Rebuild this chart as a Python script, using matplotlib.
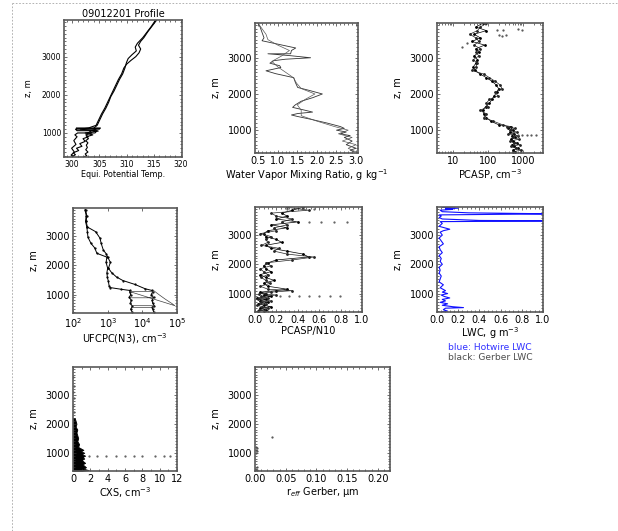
# Aircraft profile panels, 09012201

import numpy as np
import matplotlib.pyplot as plt
from matplotlib.lines import Line2D
from matplotlib.ticker import AutoMinorLocator, FixedLocator, NullFormatter

# Equivalent potential temperature, two passes plus low level legs
theta_up_z = [380, 430, 480, 540, 600, 650, 720, 780, 850, 900, 950, 1000, 1050, 1100, 1130, 1200,
              1350, 1500, 1650, 1800, 1950, 2100, 2250, 2400, 2550, 2700, 2850, 2950, 3050, 3150,
              3250, 3350, 3500, 3650, 3800, 3950]
theta_up = [300.0, 300.6, 300.2, 301.2, 300.8, 301.8, 301.4, 302.4, 302.0, 303.0, 302.5, 303.6, 303.2,
            304.4, 304.0, 304.6, 305.1, 305.6, 306.2, 306.7, 307.1, 307.7, 308.2, 308.7, 309.3, 309.7,
            310.0, 310.3, 311.0, 311.8, 311.6, 312.0, 313.0, 313.8, 314.6, 315.3]
theta_dn_z = [3950, 3800, 3650, 3500, 3400, 3300, 3200, 3100, 3000, 2900, 2800, 2700, 2550, 2400, 2250,
              2100, 1950, 1800, 1650, 1500, 1350, 1200, 1130, 1100, 1050, 1000, 950, 900, 850, 800,
              740, 680, 620, 560, 500, 450, 400, 380]
theta_dn = [315.5, 314.7, 313.9, 313.2, 312.6, 312.2, 312.6, 312.3, 311.7, 310.8, 310.0, 309.5, 309.1,
            308.5, 308.0, 307.5, 307.0, 306.5, 306.0, 305.4, 304.9, 304.4, 303.0, 301.5, 304.8, 302.4,
            303.8, 302.6, 303.0, 302.5, 302.9, 302.6, 302.8, 302.5, 302.9, 302.4, 302.7, 302.2]
theta_leg_z = [1130, 1130, 1100, 1100, 1060, 1060, 1000, 1000, 950, 900, 800, 700, 600, 500, 420, 380]
theta_leg = [300.8, 305.2, 305.0, 300.6, 300.9, 304.6, 304.2, 301.0, 300.5, 300.9, 300.3, 300.7,
             299.9, 300.4, 299.8, 300.2]

# Water vapour mixing ratio
wv_a_z = [3950, 3850, 3700, 3550, 3470, 3400, 3330, 3270, 3200, 3110, 3110, 3060, 3000, 2960, 2920,
          2850, 2780, 2730, 2640, 2560, 2450, 2320, 2180, 2100, 2000, 1900, 1800, 1700, 1630, 1550,
          1500, 1460, 1420, 1380, 1300, 1200, 1100, 1050, 1000, 950, 900, 850, 800, 700, 600, 500,
          450, 400]
wv_a = [0.5, 0.55, 0.6, 0.65, 0.6, 0.9, 1.2, 1.46, 1.35, 1.33, 0.75, 1.3, 1.84, 1.2, 0.9, 0.8, 1.05,
        1.08, 0.7, 0.95, 1.41, 1.45, 1.51, 1.8, 2.14, 1.9, 1.6, 1.45, 1.38, 1.7, 1.89, 1.51, 1.35,
        1.5, 1.85, 2.25, 2.6, 2.7, 2.5, 2.75, 2.6, 2.85, 2.7, 2.9, 2.75, 3.0, 2.85, 2.95]
wv_b_z = [3950, 3800, 3650, 3500, 3350, 3200, 3050, 2900, 2750, 2600, 2450, 2300, 2150, 2000, 1850,
          1700, 1550, 1400, 1250, 1100, 1000, 900, 800, 700, 600, 500, 400]
wv_b = [0.5, 0.6, 0.7, 0.75, 1.0, 1.3, 1.1, 0.85, 1.0, 1.2, 1.4, 1.48, 1.6, 1.95, 1.7, 1.5, 1.6, 1.6,
        2.0, 2.45, 2.8, 2.55, 2.9, 2.65, 3.0, 2.8, 3.0]

# PCASP concentration and PCASP/N10 (same altitude grid)
grid_z = [3950, 3850, 3750, 3650, 3550, 3450, 3350, 3250, 3150, 3050, 2950, 2850, 2750, 2650, 2550,
          2450, 2350, 2250, 2150, 2050, 1950, 1850, 1750, 1650, 1550, 1450, 1350, 1250, 1150, 1100,
          1050, 1000, 950, 900, 850, 800, 750, 700, 650, 600, 550, 500, 450, 400]
pcasp_a = [70, 45, 90, 40, 60, 35, 80, 45, 55, 40, 50, 45, 38, 42, 60, 90, 130, 170, 200, 180, 150,
           130, 110, 85, 70, 75, 90, 120, 200, 450, 380, 500, 420, 550, 480, 600, 450, 520, 650, 480,
           560, 700, 520, 600]
pcasp_b = [90, 60, 50, 30, 45, 55, 40, 60, 45, 55, 38, 50, 45, 35, 75, 110, 160, 220, 250, 160, 190,
           110, 90, 100, 60, 90, 75, 140, 260, 350, 600, 420, 650, 380, 700, 520, 750, 430, 550, 800,
           450, 620, 900, 500]
pcasp_out_z = [3780, 3770, 3790, 3760, 3620, 3610, 3630, 3400, 3300, 870, 870, 870, 870, 870]
pcasp_out = [180, 260, 700, 950, 200, 250, 320, 25, 18, 700, 950, 1300, 1700, 2300]

ratio_a = [0.45, 0.35, 0.25, 0.3, 0.2, 0.4, 0.15, 0.3, 0.12, 0.08, 0.1, 0.2, 0.25, 0.1, 0.15, 0.3,
           0.45, 0.5, 0.2, 0.12, 0.08, 0.1, 0.15, 0.05, 0.1, 0.18, 0.08, 0.12, 0.3, 0.2, 0.05, 0.1,
           0.08, 0.15, 0.02, 0.1, 0.05, 0.12, 0.03, 0.08, 0.15, 0.05, 0.1, 0.03]
ratio_b = [0.3, 0.5, 0.15, 0.2, 0.35, 0.25, 0.3, 0.18, 0.2, 0.05, 0.15, 0.1, 0.12, 0.06, 0.22, 0.18,
           0.3, 0.55, 0.35, 0.1, 0.15, 0.05, 0.08, 0.12, 0.06, 0.1, 0.14, 0.05, 0.12, 0.35, 0.15,
           0.04, 0.2, 0.06, 0.12, 0.03, 0.15, 0.06, 0.1, 0.02, 0.07, 0.12, 0.04, 0.08]
ratio_out_z = [3450, 3450, 3450, 3450, 3900, 3900, 3900, 900, 900, 900, 900, 900, 900, 900]
ratio_out = [0.5, 0.62, 0.74, 0.86, 0.3, 0.45, 0.55, 0.23, 0.32, 0.41, 0.5, 0.6, 0.7, 0.79]

# UFCPC (N3)
cpc_a_z = [3900, 3700, 3500, 3310, 3150, 2960, 2750, 2600, 2410, 2280, 2100, 1900, 1750, 1590, 1450,
           1300, 1240, 1180, 1140, 1100, 1000, 900, 800, 700, 600, 500, 420]
cpc_a = [222, 240, 230, 250, 260, 270, 330, 420, 490, 950, 900, 1000, 950, 980, 1050, 1100, 1170,
         2500, 4400, 4300, 4600, 4200, 4800, 4500, 5200, 4600, 5000]
cpc_b_z = [3900, 3700, 3500, 3310, 3150, 2930, 2750, 2520, 2400, 2280, 2100, 1900, 1750, 1600, 1480,
           1350, 1200, 1140, 1100, 1000, 900, 800, 700, 620, 560, 500, 420]
cpc_b = [230, 250, 240, 260, 450, 600, 650, 750, 900, 1000, 1200, 1050, 1300, 1800, 2750, 6000,
         12000, 19000, 20000, 18000, 21000, 19000, 20000, 22000, 19000, 20000, 21000]
cpc_c_z = [1140, 1000, 850, 700, 620, 1100, 1100, 890, 890, 620, 620, 560, 560]
cpc_c = [21000, 30000, 45000, 70000, 87000, 4400, 20000, 20000, 4500, 4800, 22000, 19000, 5200]

# Hotwire LWC
lwc_z = [3950, 3920, 3900, 3880, 3850, 3800, 3760, 3730, 3720, 3710, 3690, 3650, 3600, 3550, 3500,
         3490, 3480, 3460, 3400, 3300, 3200, 3150, 3100, 3000, 2900, 2800, 2700, 2600, 2500, 2400,
         2300, 2200, 2100, 2000, 1900, 1800, 1700, 1600, 1500, 1400, 1300, 1200, 1100, 1050, 1000,
         950, 900, 850, 800, 750, 700, 650, 600, 550, 520, 500, 450, 400, 380]
lwc = [0.05, 0.2, 0.08, 0.15, 0.03, 0.05, 0.3, 1.0, 1.0, 0.6, 0.02, 0.04, 0.02, 0.05, 0.4, 1.0, 1.0,
       0.03, 0.05, 0.02, 0.12, 0.06, 0.03, 0.05, 0.02, 0.04, 0.06, 0.02, 0.03, 0.05, 0.02, 0.04, 0.03,
       0.05, 0.02, 0.03, 0.02, 0.04, 0.03, 0.02, 0.06, 0.03, 0.08, 0.05, 0.1, 0.04, 0.07, 0.12, 0.05,
       0.08, 0.03, 0.1, 0.05, 0.15, 0.25, 0.08, 0.06, 0.1, 0.04]

# CXS
cxs_z = [2200, 2100, 2000, 1900, 1800, 1700, 1600, 1500, 1400, 1300, 1200, 1100, 1050, 1000, 950,
         900, 850, 800, 750, 700, 650, 600, 550, 500, 450, 400, 380]
cxs = [0.2, 0.3, 0.4, 0.3, 0.5, 0.4, 0.5, 0.6, 0.5, 0.7, 0.6, 1.2, 0.9, 1.3, 1.0, 1.4, 1.1, 1.3, 1.0,
       1.2, 1.4, 1.1, 1.3, 1.5, 1.2, 1.8, 1.0]
cxs_out_z = [2400, 2600, 2900, 3100, 3300, 3600, 900, 900, 900, 900, 900, 900, 900, 900, 900, 900]
cxs_out = [0.1, 0.05, 0.1, 0.05, 0.1, 0.05, 1.8, 2.8, 3.8, 5.0, 6.0, 7.0, 8.0, 9.5, 10.5, 11.2]

# Gerber effective radius
reff_z = [1550, 1200, 1150, 1100, 1050, 1000, 500, 450, 420]
reff = [0.028, 0.002, 0.003, 0.002, 0.004, 0.002, 0.003, 0.002, 0.004]

W, H = 618, 531
FS = 7
ZLIM = (370, 3960)

plt.rcParams['font.family'] = 'DejaVu Sans'
fig = plt.figure(figsize=(W / 100, H / 100), dpi=100)


def make_ax(l, t, r, b, fs=FS):
    ax = fig.add_axes([l / W, 1 - b / H, (r - l) / W, (b - t) / H])
    ax.set_ylim(*ZLIM)
    ax.set_yticks([1000, 2000, 3000])
    ax.yaxis.set_minor_locator(AutoMinorLocator(10))
    ax.tick_params(which='both', direction='in', top=True, right=True, labelsize=fs,
                   width=0.5, color='0.2', pad=2)
    ax.tick_params(which='major', length=2.5)
    ax.tick_params(which='minor', length=1.2)
    for s in ax.spines.values():
        s.set_linewidth(1.2)
        s.set_color('0.35')
    ax.set_ylabel('z, m', fontsize=fs, labelpad=5)
    return ax


def fix_labels(ax, labels):
    ax.set_xticklabels(labels)


# row 1
ax1 = make_ax(64, 20, 182, 157, fs=5.5)
ax1.plot(theta_up, theta_up_z, color='k', lw=0.8)
ax1.plot(theta_dn, theta_dn_z, color='k', lw=0.8)
ax1.plot(theta_leg, theta_leg_z, color='k', lw=0.8)
ax1.set_xlim(298.5, 320.2)
ax1.set_xticks([300, 305, 310, 315, 320])
ax1.xaxis.set_minor_locator(AutoMinorLocator(5))
ax1.set_ylabel('z, m', fontsize=6, labelpad=6)
ax1.set_xlabel('Equi. Potential Temp.', fontsize=5.8, labelpad=1)
ax1.set_title('09012201 Profile', fontsize=7, pad=2)

ax2 = make_ax(255, 23, 358, 153)
ax2.plot(wv_a, wv_a_z, color='0.2', lw=0.6)
ax2.plot(wv_b, wv_b_z, color='0.35', lw=0.5)
ax2.set_xlim(0.42, 3.05)
ax2.set_xticks([0.5, 1.0, 1.5, 2.0, 2.5, 3.0])
fix_labels(ax2, ['0.5', '1.0', '1.5', '2.0', '2.5', '3.0'])
ax2.xaxis.set_minor_locator(AutoMinorLocator(5))
ax2.set_xlabel('Water Vapor Mixing Ratio, g kg$^{-1}$', fontsize=FS, labelpad=1)

ax3 = make_ax(437, 23, 543, 153)
ax3.set_xscale('log')
ax3.plot(pcasp_a, grid_z, color='k', lw=0.5, marker='.', ms=2)
ax3.plot(pcasp_b, grid_z, color='0.15', lw=0.5, marker='.', ms=2)
ax3.plot(pcasp_out, pcasp_out_z, ls='none', color='0.3', marker='.', ms=1.2)
ax3.set_xlim(3.5, 3700)
ax3.xaxis.set_major_locator(FixedLocator([10, 100, 1000]))
fix_labels(ax3, ['10', '100', '1000'])
ax3.xaxis.set_minor_formatter(NullFormatter())
ax3.set_xlabel('PCASP, cm$^{-3}$', fontsize=FS, labelpad=1)

# row 2
ax4 = make_ax(73, 208, 177, 313)
ax4.set_xscale('log')
ax4.plot(cpc_a, cpc_a_z, color='k', lw=0.7, marker='.', ms=1.2)
ax4.plot(cpc_b, cpc_b_z, color='k', lw=0.7, marker='.', ms=1.2)
ax4.plot(cpc_c, cpc_c_z, color='0.25', lw=0.5)
ax4.set_xlim(100, 1e5)
ax4.xaxis.set_major_locator(FixedLocator([1e2, 1e3, 1e4, 1e5]))
fix_labels(ax4, ['10$^2$', '10$^3$', '10$^4$', '10$^5$'])
ax4.xaxis.set_minor_formatter(NullFormatter())
ax4.set_xlabel('UFCPC(N3), cm$^{-3}$', fontsize=FS, labelpad=1)

ax5 = make_ax(255, 207, 362, 312)
ax5.plot(ratio_a, grid_z, color='k', lw=0.5, marker='.', ms=2)
ax5.plot(ratio_b, grid_z, color='0.15', lw=0.5, marker='.', ms=2)
ax5.plot(ratio_out, ratio_out_z, ls='none', color='0.35', marker='.', ms=1.2)
ax5.set_xlim(0, 1.0)
ax5.set_xticks([0, 0.2, 0.4, 0.6, 0.8, 1.0])
fix_labels(ax5, ['0.0', '0.2', '0.4', '0.6', '0.8', '1.0'])
ax5.xaxis.set_minor_locator(AutoMinorLocator(5))
ax5.set_xlabel('PCASP/N10', fontsize=FS, labelpad=1)

ax6 = make_ax(437, 207, 543, 312)
ax6.plot(lwc, lwc_z, color='#1010ff', lw=0.8)
ax6.set_xlim(0, 1.0)
ax6.set_xticks([0, 0.2, 0.4, 0.6, 0.8, 1.0])
fix_labels(ax6, ['0.0', '0.2', '0.4', '0.6', '0.8', '1.0'])
ax6.xaxis.set_minor_locator(AutoMinorLocator(5))
ax6.set_xlabel('LWC, g m$^{-3}$', fontsize=FS, labelpad=0.5)
ax6.text(0.5, -0.335, 'blue: Hotwire LWC', color='#3030ff', fontsize=6.6,
         ha='center', va='center', transform=ax6.transAxes)
ax6.text(0.5, -0.43, 'black: Gerber LWC', color='0.3', fontsize=6.6,
         ha='center', va='center', transform=ax6.transAxes)

# row 3
ax7 = make_ax(73, 367, 177, 471)
ax7.fill_betweenx(cxs_z, 0, cxs, color='k', lw=0.6)
ax7.plot(cxs_out, cxs_out_z, ls='none', color='0.35', marker='.', ms=1.2)
ax7.set_xlim(0, 12)
ax7.set_xticks([0, 2, 4, 6, 8, 10, 12])
ax7.xaxis.set_minor_locator(AutoMinorLocator(2))
ax7.set_xlabel('CXS, cm$^{-3}$', fontsize=FS, labelpad=1)

ax8 = make_ax(255, 367, 390, 471)
ax8.plot(reff, reff_z, ls='none', color='0.3', marker='.', ms=1.2)
ax8.set_xlim(0, 0.22)
ax8.set_xticks([0, 0.05, 0.10, 0.15, 0.20])
fix_labels(ax8, ['0.00', '0.05', '0.10', '0.15', '0.20'])
ax8.xaxis.set_minor_locator(AutoMinorLocator(5))
ax8.set_xlabel('r$_{eff}$ Gerber, \u03bcm', fontsize=FS, labelpad=1)

# dashed page border (top and left)
fig.add_artist(Line2D([12 / W, 1], [1 - 3 / H, 1 - 3 / H], transform=fig.transFigure,
                      ls=(0, (2, 2)), color='0.65', lw=0.6))
fig.add_artist(Line2D([12 / W, 12 / W], [0, 1 - 3 / H], transform=fig.transFigure,
                      ls=(0, (2, 2)), color='0.65', lw=0.6))

fig.savefig('out.png', dpi=100)
